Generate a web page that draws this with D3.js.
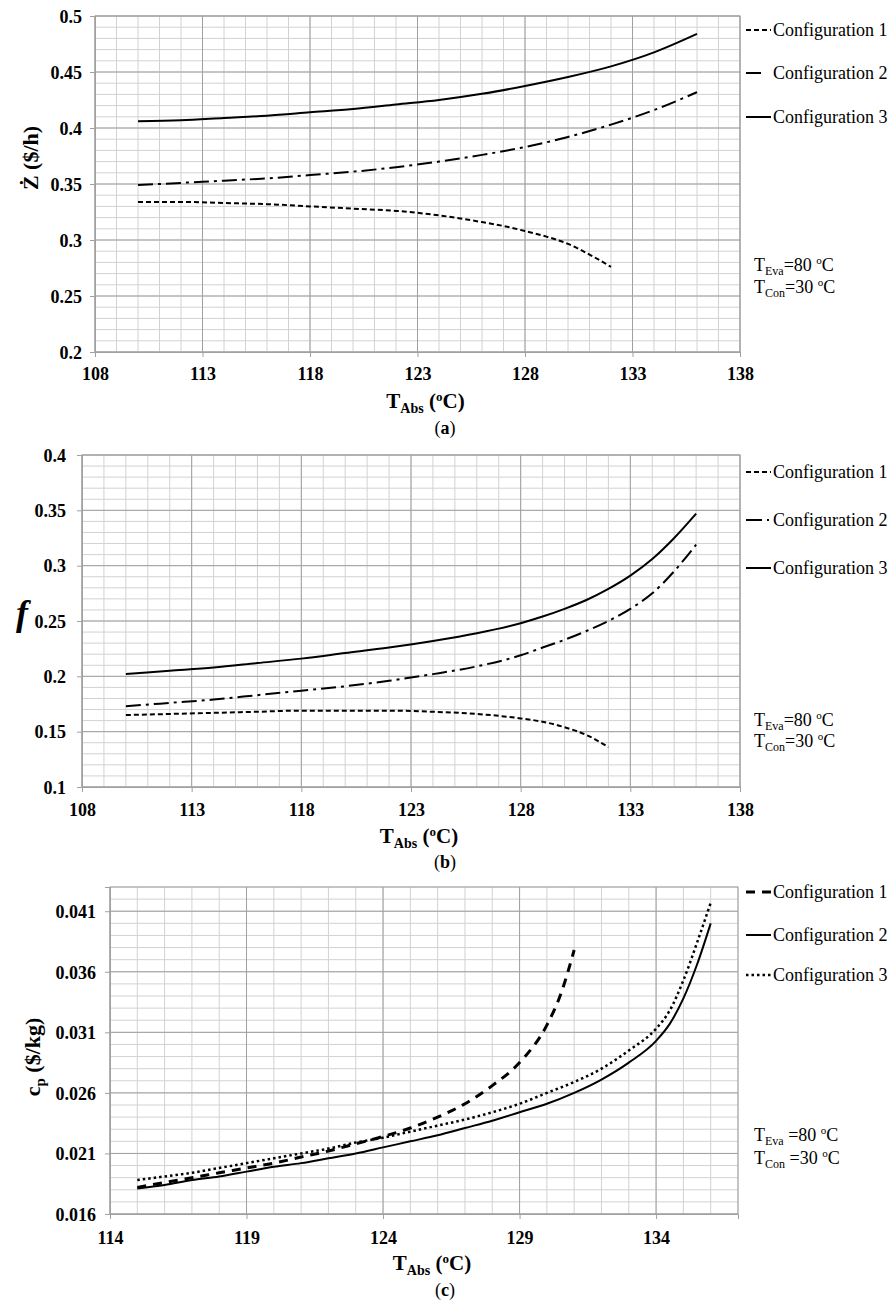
<!DOCTYPE html>
<html><head><meta charset="utf-8">
<script src="https://cdnjs.cloudflare.com/ajax/libs/d3/7.8.5/d3.min.js"></script>
<style>
body{margin:0;background:#fff}
svg{display:block}
text{font-family:"Liberation Serif","Times New Roman",serif;fill:#000}
</style>
</head><body>
<svg id="chart" width="889" height="1301"></svg>
<script>
// ---------- DATA ----------
const seriesNames = ["Configuration 1", "Configuration 2", "Configuration 3"];

// Panel (a): Z-dot ($/h) vs T_Abs
const aX1 = [110,112,114,116,118,120,122,124,126,127,128,129,130,131,132];
const aZ1 = [0.334,0.334,0.333,0.332,0.330,0.328,0.326,0.322,0.316,0.3125,0.308,0.303,0.2965,0.287,0.276];
const aX23 = [110,112,114,116,118,120,122,124,126,128,130,132,134,136];
const aZ2 = [0.349,0.351,0.353,0.355,0.358,0.361,0.365,0.370,0.376,0.383,0.392,0.403,0.416,0.432];
const aZ3 = [0.406,0.407,0.409,0.411,0.414,0.417,0.421,0.425,0.4305,0.4375,0.4455,0.455,0.4675,0.484];
const aXTicks = [108,113,118,123,128,133,138];
const aYTicks = [0.2,0.25,0.3,0.35,0.4,0.45,0.5];

// Panel (b): f vs T_Abs
const bX1 = [110,112,114,116,118,120,122,124,126,128,129,130,131,132];
const bF1 = [0.165,0.166,0.167,0.168,0.169,0.169,0.169,0.168,0.166,0.162,0.159,0.154,0.147,0.136];
const bX23 = [110,112,114,116,118,120,122,124,126,128,129,130,131,132,133,134,135,136];
const bF2 = [0.173,0.176,0.179,0.183,0.187,0.191,0.196,0.202,0.209,0.219,0.226,0.233,0.241,0.250,0.261,0.275,0.295,0.319];
const bF3 = [0.202,0.205,0.208,0.212,0.216,0.221,0.226,0.232,0.239,0.248,0.254,0.261,0.269,0.279,0.291,0.306,0.325,0.347];
const bXTicks = [108,113,118,123,128,133,138];
const bYTicks = [0.1,0.15,0.2,0.25,0.3,0.35,0.4];

// Panel (c): c_p ($/kg) vs T_Abs
const cX1 = [115,116,117,118,119,120,121,122,123,124,125,126,127,128,129,130,130.5,131];
const cC1 = [0.0182,0.0186,0.0190,0.0194,0.0198,0.0202,0.0207,0.0212,0.0218,0.0224,0.0231,0.0240,0.0251,0.0266,0.0285,0.0316,0.0341,0.0378];
const cX23 = [115,116,117,118,119,120,121,122,123,124,125,126,127,128,129,130,131,132,133,134,134.5,135,135.5,136];
const cC2 = [0.0181,0.0184,0.0188,0.0191,0.0195,0.0199,0.0202,0.0206,0.0210,0.0215,0.0220,0.0225,0.0231,0.0237,0.0244,0.0251,0.0260,0.0271,0.0285,0.0303,0.0317,0.0338,0.0366,0.0400];
const cC3 = [0.0188,0.0191,0.0194,0.0198,0.0202,0.0206,0.0210,0.0214,0.0219,0.0223,0.0228,0.0233,0.0238,0.0244,0.0251,0.0260,0.0269,0.0280,0.0295,0.0313,0.0328,0.0353,0.0384,0.0417];
const cXTicks = [114,119,124,129,134];
const cYTicks = [0.016,0.021,0.026,0.031,0.036,0.041];

// ---------- DRAWING ----------
const svg = d3.select("#chart");
const MINOR = "#d2d2d2", MAJOR = "#a0a0a0";
const SERIF = '"Liberation Serif","Times New Roman",serif';
const fmt = d => String(+d.toFixed(4));

function panel(o) {
  const g = svg.append("g").attr("font-family", SERIF);
  const x = d3.scaleLinear().domain(o.xDomain).range([o.left, o.right]);
  const y = d3.scaleLinear().domain(o.yDomain).range([o.bottom, o.top]);
  const nx = Math.round(o.xDomain[1] - o.xDomain[0]);
  const xMinor = d3.range(nx + 1).map(i => o.xDomain[0] + i);
  const ny = Math.round((o.yDomain[1] - o.yDomain[0]) / o.yMinor);
  const yMinor = d3.range(ny + 1).map(i => o.yDomain[0] + i * o.yMinor);

  g.append("g").selectAll("line").data(xMinor).join("line")
    .attr("x1", d => x(d)).attr("x2", d => x(d)).attr("y1", o.top).attr("y2", o.bottom)
    .attr("stroke", MINOR).attr("stroke-width", 1);
  g.append("g").selectAll("line").data(yMinor).join("line")
    .attr("y1", d => y(d)).attr("y2", d => y(d)).attr("x1", o.left).attr("x2", o.right)
    .attr("stroke", MINOR).attr("stroke-width", 1);
  g.append("g").selectAll("line").data(o.xTicks).join("line")
    .attr("x1", d => x(d)).attr("x2", d => x(d)).attr("y1", o.top).attr("y2", o.bottom)
    .attr("stroke", MAJOR).attr("stroke-width", 1);
  g.append("g").selectAll("line").data(o.yTicks).join("line")
    .attr("y1", d => y(d)).attr("y2", d => y(d)).attr("x1", o.left).attr("x2", o.right)
    .attr("stroke", MAJOR).attr("stroke-width", 1);
  g.append("rect").attr("x", o.left).attr("y", o.top).attr("width", o.right - o.left).attr("height", o.bottom - o.top)
    .attr("fill", "none").attr("stroke", MAJOR).attr("stroke-width", 1);

  // axes
  const ax = g.append("g").attr("transform", `translate(0,${o.bottom})`)
    .call(d3.axisBottom(x).tickValues(o.xTicks).tickSize(5).tickFormat(d3.format("d")));
  ax.attr("font-family", SERIF);
  ax.select(".domain").attr("stroke", MAJOR);
  ax.selectAll(".tick line").attr("stroke", MAJOR);
  ax.selectAll(".tick text").attr("y", o.xLabelOff).attr("dy", "0.35em")
    .attr("font-size", 18).attr("font-weight", "bold").attr("font-family", SERIF);
  const ay = g.append("g").attr("transform", `translate(${o.left},0)`)
    .call(d3.axisLeft(y).tickValues(o.yTicks).tickSize(5).tickFormat(fmt));
  ay.attr("font-family", SERIF);
  ay.select(".domain").attr("stroke", MAJOR);
  ay.selectAll(".tick line").attr("stroke", MAJOR);
  ay.selectAll(".tick text").attr("x", -o.yLabelOff).attr("dy", "0.35em")
    .attr("font-size", 18).attr("font-weight", "bold").attr("font-family", SERIF);

  // series
  const line = d3.line().x(d => x(d[0])).y(d => y(d[1])).curve(d3.curveMonotoneX);
  o.series.forEach(s => {
    const pts = s.xs.map((v, i) => [v, s.ys[i]]);
    g.append("path").datum(pts).attr("d", line).attr("fill", "none")
      .attr("stroke", "#000").attr("stroke-width", s.w).attr("stroke-dasharray", s.dash || null);
  });

  // legend
  o.series.forEach((s, i) => {
    const ly = o.legendY[i];
    g.append("line").attr("x1", 746).attr("x2", s.legLen ? 746 + s.legLen : 771)
      .attr("y1", ly).attr("y2", ly).attr("stroke", "#000").attr("stroke-width", s.w)
      .attr("stroke-dasharray", s.legDash || s.dash || null);
    g.append("text").attr("x", 773).attr("y", ly).attr("dy", "0.35em").attr("font-size", 18)
      .text(seriesNames[i]);
  });

  // annotation
  [["Eva", "80", o.annY[0]], ["Con", "30", o.annY[1]]].forEach(a => {
    const t = g.append("text").attr("x", 754).attr("y", a[2]).attr("dy", "0.35em").attr("font-size", 18);
    t.append("tspan").text("T");
    t.append("tspan").attr("font-size", 12).attr("dy", 4).text(a[0]);
    t.append("tspan").attr("dy", -4).text((o.annSpace ? " " : "") + "=" + a[1] + " ");
    t.append("tspan").attr("font-size", 11).attr("dy", -7).text("o");
    t.append("tspan").attr("dy", 7).text("C");
  });

  // x title
  const cx = (o.left + o.right) / 2 + 8;
  const tt = g.append("text").attr("x", cx).attr("y", o.titleY).attr("dy", "0.35em")
    .attr("text-anchor", "middle").attr("font-size", 21).attr("font-weight", "bold");
  tt.append("tspan").text("T");
  tt.append("tspan").attr("font-size", 14).attr("dy", 5).text("Abs");
  tt.append("tspan").attr("dy", -5).text(" (");
  tt.append("tspan").attr("font-size", 13).attr("dy", -7).text("o");
  tt.append("tspan").attr("dy", 7).text("C)");

  const pl = g.append("text").attr("x", 445).attr("y", o.tagY).attr("dy", "0.35em")
    .attr("text-anchor", "middle").attr("font-size", 18);
  pl.append("tspan").text("(");
  pl.append("tspan").attr("font-weight", "bold").text(o.tag);
  pl.append("tspan").text(")");
  return g;
}

// Panel (a)
const gA = panel({
  left: 95, right: 740, top: 16, bottom: 352,
  xDomain: [108, 138], yDomain: [0.2, 0.5], yMinor: 0.01,
  xTicks: aXTicks, yTicks: aYTicks, xLabelOff: 22, yLabelOff: 13,
  series: [
    {xs: aX1, ys: aZ1, w: 2, dash: "5,3"},
    {xs: aX23, ys: aZ2, w: 2, dash: "15,5,3,5", legLen: 16, legDash: null},
    {xs: aX23, ys: aZ3, w: 2}
  ],
  legendY: [30, 73, 117], annY: [265, 287], titleY: 401, tagY: 428, tag: "a"
});
gA.append("text").attr("transform", "translate(30,158) rotate(-90)").attr("text-anchor", "middle")
  .attr("dy", "0.35em").attr("font-size", 22).attr("font-weight", "bold").text("Ż ($/h)");

// Panel (b)
const gB = panel({
  left: 82, right: 740, top: 455, bottom: 787,
  xDomain: [108, 138], yDomain: [0.1, 0.4], yMinor: 0.01,
  xTicks: bXTicks, yTicks: bYTicks, xLabelOff: 23, yLabelOff: 16,
  series: [
    {xs: bX1, ys: bF1, w: 2, dash: "5,3"},
    {xs: bX23, ys: bF2, w: 2, dash: "15,5,3,5", legLen: 24, legDash: "16,5,2,5"},
    {xs: bX23, ys: bF3, w: 2}
  ],
  legendY: [472, 520, 568], annY: [720, 741], titleY: 836, tagY: 862, tag: "b"
});
gB.append("text").attr("x", 22).attr("y", 625).attr("text-anchor", "middle")
  .attr("font-size", 36).attr("font-weight", "bold").attr("font-style", "italic").text("f");

// Panel (c)
const gC = panel({
  left: 110, right: 738, top: 887, bottom: 1214,
  xDomain: [114, 137], yDomain: [0.016, 0.043], yMinor: 0.001,
  xTicks: cXTicks, yTicks: cYTicks, xLabelOff: 24, yLabelOff: 14,
  series: [
    {xs: cX1, ys: cC1, w: 3, dash: "9,7"},
    {xs: cX23, ys: cC2, w: 2},
    {xs: cX23, ys: cC3, w: 2.5, dash: "2.5,3"}
  ],
  legendY: [892, 935, 975], annY: [1135, 1158], annSpace: true, titleY: 1263, tagY: 1290, tag: "c"
});
const yl = gC.append("text").attr("transform", "translate(32,1057) rotate(-90)").attr("text-anchor", "middle")
  .attr("dy", "0.35em").attr("font-size", 22).attr("font-weight", "bold");
yl.append("tspan").text("c");
yl.append("tspan").attr("font-size", 15).attr("dy", 5).text("p");
yl.append("tspan").attr("dy", -5).text(" ($/kg)");
</script>
</body></html>
